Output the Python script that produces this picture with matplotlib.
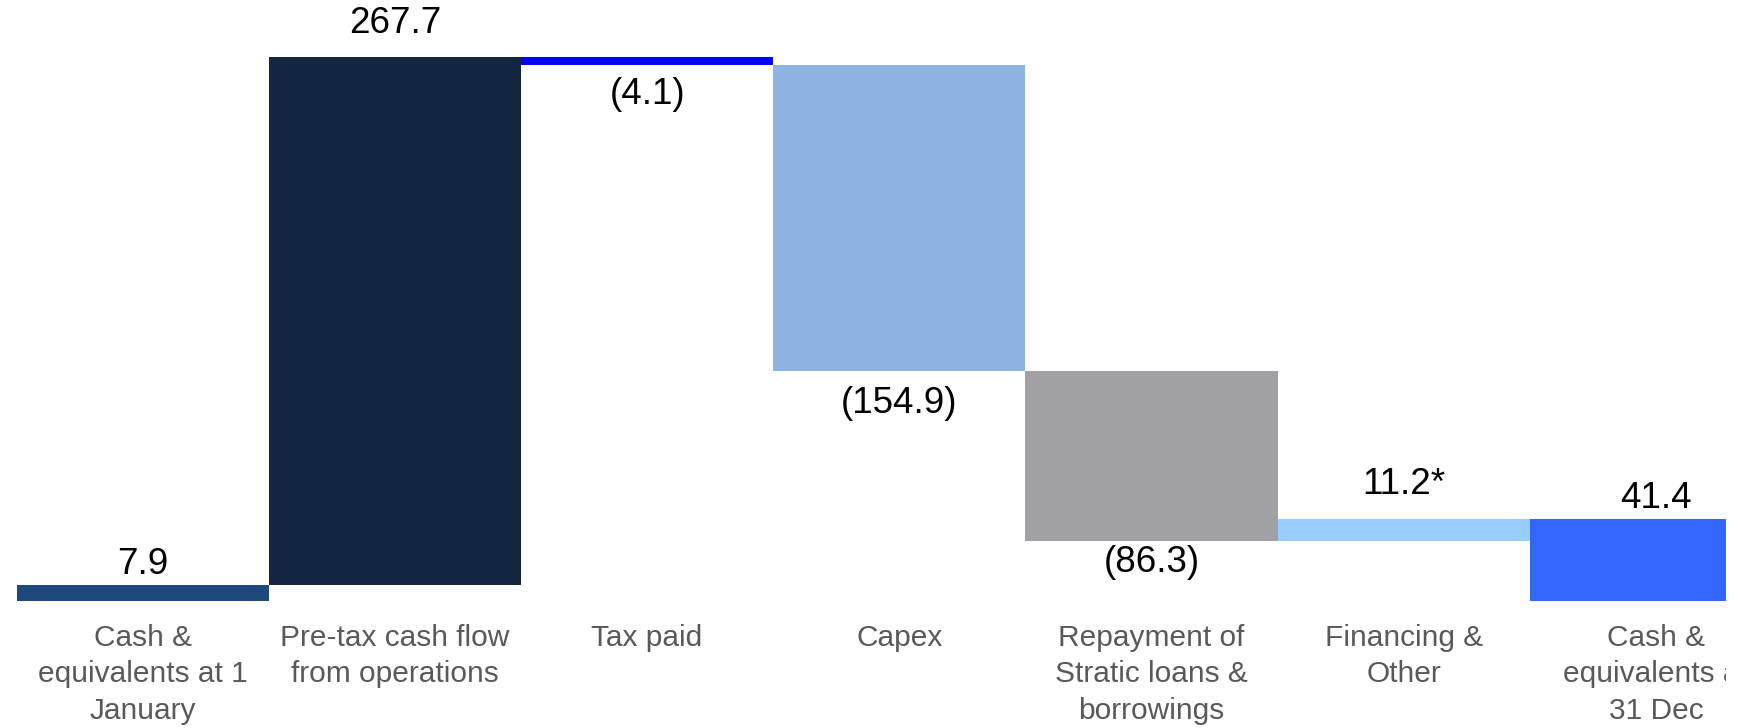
import matplotlib
matplotlib.use("Agg")
import matplotlib.pyplot as plt

categories = ["Cash &\nequivalents at 1\nJanuary",
              "Pre-tax cash flow\nfrom operations",
              "Tax paid",
              "Capex",
              "Repayment of\nStratic loans &\nborrowings",
              "Financing &\nOther",
              "Cash &\nequivalents at\n31 Dec"]
values = [7.9, 267.7, -4.1, -154.9, -86.3, 11.2, 41.4]
value_labels = ["7.9", "267.7", "(4.1)", "(154.9)", "(86.3)", "11.2*", "41.4"]
is_total = [True, False, False, False, False, False, True]
colors = ["#1F497D", "#132640", "#0000FF", "#8EB4E3", "#A1A0A5", "#99CCFF", "#3366FF"]

plt.rcParams['font.family'] = ['Liberation Sans', 'DejaVu Sans']

fig = plt.figure(figsize=(17.4, 7.28), dpi=100)
ax = fig.add_axes([0, 0, 1726 / 1740, 1])
ax.axis("off")

# pixel geometry
px_per_bar = 252.2
left_px = 16.6
px_per_unit = 1.973
zero_px = 600.7
ax.set_xlim(-0.5 - left_px / px_per_bar, -0.5 - left_px / px_per_bar + 1726 / px_per_bar)
ax.set_ylim(-(728 - zero_px) / px_per_unit, zero_px / px_per_unit)

label_gap_px = [21, 33, 29, 33, 22, 34, 21]

running = 0.0
for i, (v, tot) in enumerate(zip(values, is_total)):
    if tot:
        bottom, height = 0.0, v
        running = v
    else:
        bottom, height = running, v
        running = running + v
    ax.bar(i, height, bottom=bottom, width=1.0, color=colors[i], linewidth=0)
    top = max(bottom, bottom + height)
    low = min(bottom, bottom + height)
    if v >= 0:
        ax.annotate(value_labels[i], (i, top), xytext=(0, label_gap_px[i]),
                    textcoords="offset pixels", ha="center", va="center",
                    fontsize=26.5, color="black")
    else:
        ax.annotate(value_labels[i], (i, low), xytext=(0, -label_gap_px[i]),
                    textcoords="offset pixels", ha="center", va="center",
                    fontsize=26.5, color="black")

y_lab = -(624 - zero_px) / px_per_unit
for i, c in enumerate(categories):
    ax.text(i, y_lab, c, ha="center", va="top", fontsize=21.5, color="#595959",
            linespacing=1.38, clip_on=True)

fig.savefig("out.png", dpi=100, facecolor="white")
